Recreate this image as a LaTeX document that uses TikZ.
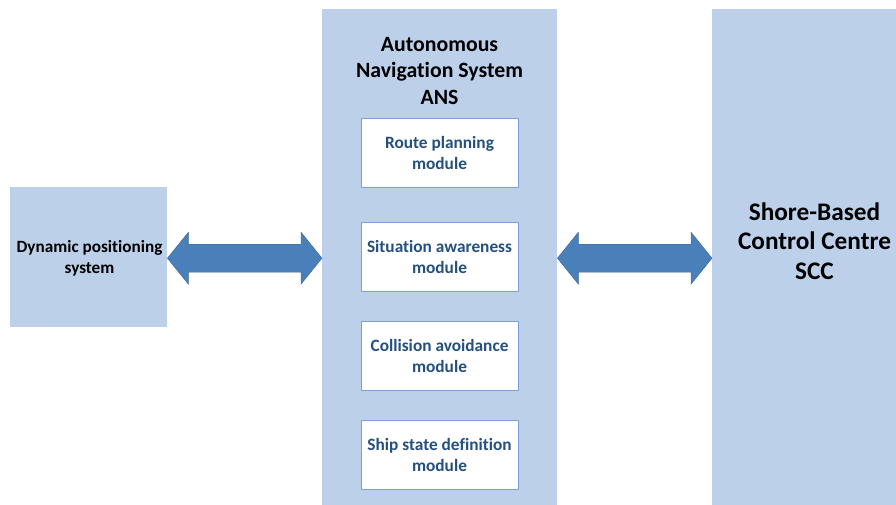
\documentclass[tikz,border=0pt]{standalone}
\usepackage{fontspec}
\setmainfont{Carlito}[Ligatures=NoCommon]
\usetikzlibrary{calc}
\definecolor{colfill}{HTML}{BCD0EA}
\definecolor{arrfill}{HTML}{4A80BA}
\definecolor{modborder}{HTML}{7F9FD6}
\definecolor{modtext}{HTML}{24507F}
\tikzset{
  column/.style={fill=colfill, draw=none, inner sep=0pt, anchor=north west},
  modbox/.style={fill=white, draw=modborder, line width=0.9pt, minimum width=157pt, minimum height=69pt, inner sep=0pt, align=center, font=\bfseries\fontsize{17.3}{21}\selectfont, text=modtext},
  bigarrow/.style={fill=arrfill, draw=arrfill!80!black, line width=0.4pt}
}
\begin{document}
\begin{tikzpicture}[x=1pt,y=-1pt]
\useasboundingbox (0,0) rectangle (896,505);
% columns
\node[column, minimum width=235pt, minimum height=497pt] (ans) at (322,9) {};
\node[column, minimum width=200pt, minimum height=497pt] (scc) at (712,9) {};
\node[column, minimum width=157pt, minimum height=140pt] (dps) at (10,187) {};
% texts
\node[align=center, font=\bfseries\fontsize{21.8}{26.3}\selectfont] (anstitle) at (439.5,71) {Autonomous\\Navigation System\\ANS};
\node[align=center, font=\bfseries\fontsize{25.3}{29.5}\selectfont] (scctitle) at (814.5,241) {Shore-Based\\Control Centre\\SCC};
\node[align=center, font=\bfseries\fontsize{17.2}{21}\selectfont] (dpstitle) at (89.5,258) {Dynamic positioning\\system};
% modules
\node[modbox] (route) at (439.5,152.5) {Route planning\\module};
\node[modbox] (situ) at (439.5,257) {Situation awareness\\module};
\node[modbox] (coll) at (439.5,356) {Collision avoidance\\module};
\node[modbox] (ship) at (439.5,455) {Ship state definition\\module};
% arrows
\draw[bigarrow] ($(dps.east)+(0,1)$) -- ++(21,-26) -- ++(0,12) -- ($(ans.west |- dps.east)+(-21,-13)$) -- ++(0,-12) -- ($(ans.west |- dps.east)+(0,1)$) -- ++(-21,26) -- ++(0,-12) -- ($(dps.east)+(21,15)$) -- ++(0,12) -- cycle;
\coordinate (ra) at ($(ans.east |- dps.east)+(0,1)$);
\coordinate (rb) at ($(scc.west |- dps.east)+(0,1)$);
\draw[bigarrow] (ra) -- ++(21,-26) -- ++(0,12) -- ($(rb)+(-21,-14)$) -- ++(0,-12) -- (rb) -- ++(-21,26) -- ++(0,-12) -- ($(ra)+(21,14)$) -- ++(0,12) -- cycle;
\end{tikzpicture}
\end{document}
